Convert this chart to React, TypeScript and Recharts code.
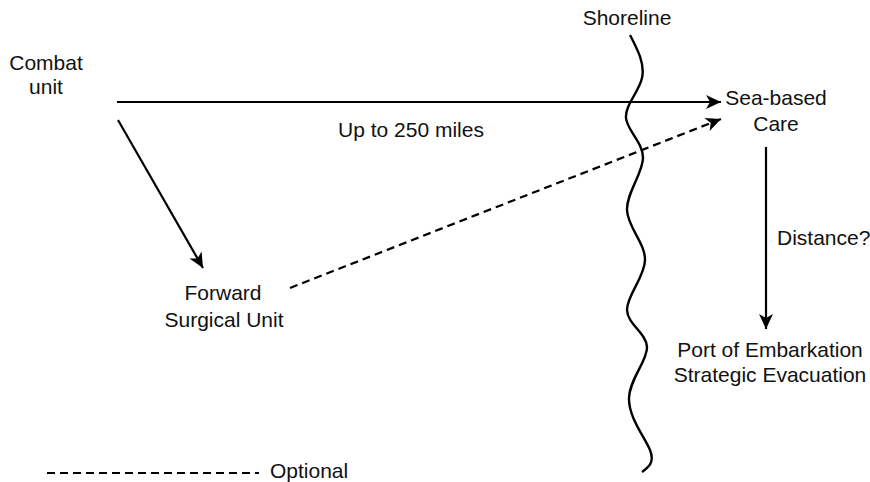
import { ComposedChart, Line, Scatter, XAxis, YAxis } from 'recharts'

// diagram coordinates (x right, y down) on an 870 x 482 canvas
const directPath = [{ x: 117, y: 102 }, { x: 721, y: 102 }]
const forwardPath = [{ x: 118, y: 120 }, { x: 203, y: 268 }]
const optionalPath = [{ x: 290, y: 288 }, { x: 721, y: 119 }]
const evacPath = [{ x: 766, y: 147 }, { x: 766, y: 329 }]
const legendDash = [{ x: 47, y: 473 }, { x: 259, y: 473 }]

const shoreline = [
  { x: 630, y: 35 }, { x: 642, y: 78 }, { x: 626, y: 118 }, { x: 643, y: 158 },
  { x: 627, y: 210 }, { x: 645, y: 260 }, { x: 627, y: 310 }, { x: 647, y: 347 },
  { x: 629, y: 398 }, { x: 650, y: 450 }, { x: 642, y: 472 },
]

const labels = [
  { x: 46, y: 70, text: 'Combat', anchor: 'middle' },
  { x: 46, y: 94, text: 'unit', anchor: 'middle' },
  { x: 627, y: 25, text: 'Shoreline', anchor: 'middle' },
  { x: 776, y: 105, text: 'Sea-based', anchor: 'middle' },
  { x: 776, y: 131, text: 'Care', anchor: 'middle' },
  { x: 411, y: 137, text: 'Up to 250 miles', anchor: 'middle' },
  { x: 223, y: 300, text: 'Forward', anchor: 'middle' },
  { x: 224, y: 327, text: 'Surgical Unit', anchor: 'middle' },
  { x: 777, y: 245, text: 'Distance?', anchor: 'start' },
  { x: 770, y: 357, text: 'Port of Embarkation', anchor: 'middle' },
  { x: 770, y: 382, text: 'Strategic Evacuation', anchor: 'middle' },
  { x: 270, y: 478, text: 'Optional', anchor: 'start' },
]

const FONT = '"Liberation Sans", Arial, sans-serif'

// filled arrowhead on the last point of a line, pointing along the last segment
const arrowDot = (props: any) => {
  const { cx, cy, index, points, key } = props
  if (!points || index !== points.length - 1) return <g key={key ?? index} />
  const prev = points[index - 1]
  const ang = Math.atan2(cy - prev.y, cx - prev.x)
  const L = 15
  const w = 7
  const notch = 4
  const pt = (a: number, b: number) => {
    const px = cx + a * Math.cos(ang) - b * Math.sin(ang)
    const py = cy + a * Math.sin(ang) + b * Math.cos(ang)
    return `${px},${py}`
  }
  return (
    <polygon
      key={key ?? index}
      points={[pt(0, 0), pt(-L, -w), pt(-L + notch, 0), pt(-L, w)].join(' ')}
      fill="#000"
      stroke="none"
    />
  )
}

const textShape = (props: any) => {
  const { cx, cy, payload } = props
  return (
    <text x={cx} y={cy} textAnchor={payload.anchor} fontFamily={FONT} fontSize={21} fill="#111">
      {payload.text}
    </text>
  )
}

export default function App() {
  return (
    <div style={{ position: 'absolute', left: 0, top: 0, background: '#fff' }}>
      <ComposedChart width={870} height={482} margin={{ top: 0, right: 0, bottom: 0, left: 0 }}>
        <XAxis type="number" dataKey="x" domain={[0, 870]} hide allowDataOverflow />
        <YAxis type="number" dataKey="y" domain={[0, 482]} reversed hide allowDataOverflow />

        <Line data={shoreline} dataKey="y" type="natural" stroke="#000" strokeWidth={2.4} dot={false} isAnimationActive={false} />
        <Line data={directPath} dataKey="y" type="linear" stroke="#000" strokeWidth={2.2} dot={arrowDot} isAnimationActive={false} />
        <Line data={forwardPath} dataKey="y" type="linear" stroke="#000" strokeWidth={2.2} dot={arrowDot} isAnimationActive={false} />
        <Line data={optionalPath} dataKey="y" type="linear" stroke="#000" strokeWidth={2.2} strokeDasharray="8 5" dot={arrowDot} isAnimationActive={false} />
        <Line data={evacPath} dataKey="y" type="linear" stroke="#000" strokeWidth={2.2} dot={arrowDot} isAnimationActive={false} />
        <Line data={legendDash} dataKey="y" type="linear" stroke="#000" strokeWidth={2.2} strokeDasharray="8 5" dot={false} isAnimationActive={false} />

        <Scatter data={labels} dataKey="y" shape={textShape} isAnimationActive={false} />
      </ComposedChart>
    </div>
  )
}
